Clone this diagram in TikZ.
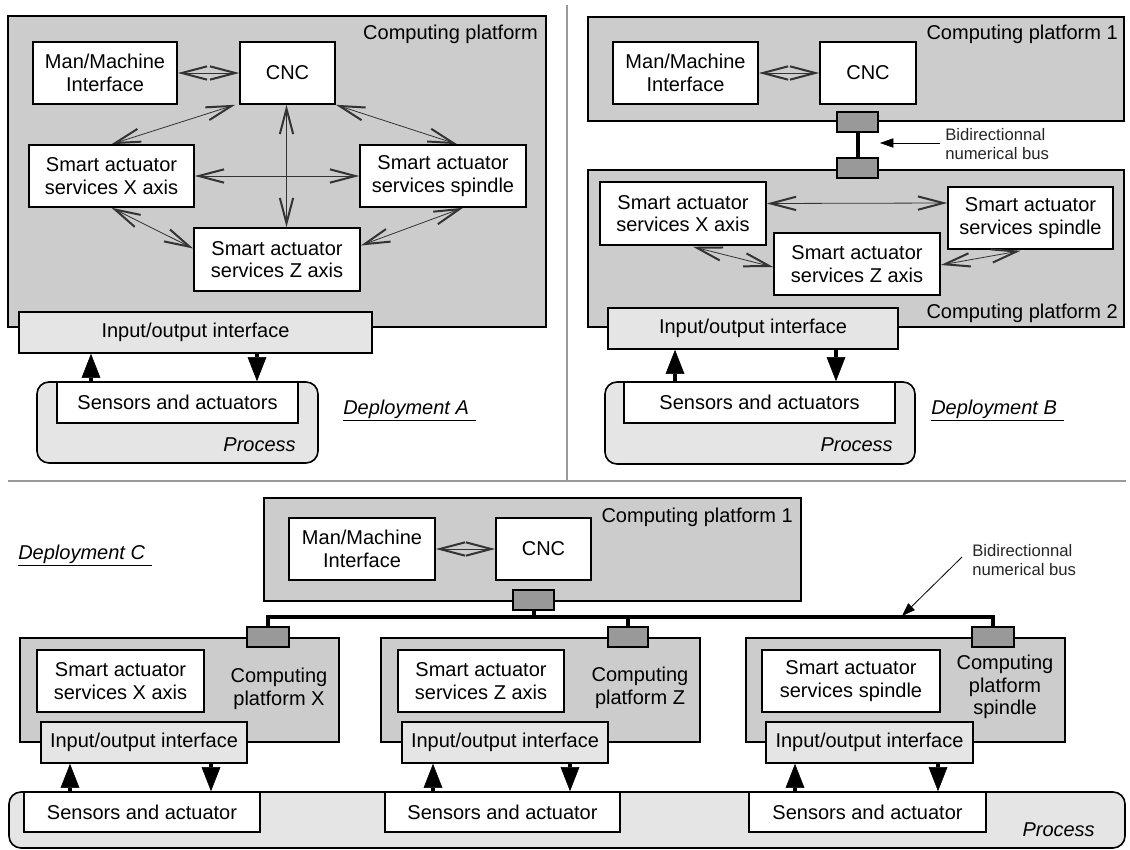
\documentclass[tikz,border=0pt]{standalone}
\usepackage{fontspec}
\setmainfont{Liberation Sans}
\usetikzlibrary{arrows.meta,calc}
\definecolor{platfill}{gray}{0.8}
\definecolor{iofill}{gray}{0.9}
\definecolor{connfill}{gray}{0.6}
\definecolor{sepcol}{gray}{0.6}
\newcommand\bfnt{\fontsize{15}{17}\selectfont}
\newcommand\smfnt{\fontsize{12.5}{14}\selectfont}
\begin{document}
\begin{tikzpicture}[x=0.75pt,y=-0.75pt,
  rect/.style n args={4}{minimum width={(#3-#1)*0.75pt}, minimum height={(#4-#2)*0.75pt}, at={({(#1+#3)/2},{(#2+#4)/2})}, anchor=center},
  plat/.style={draw, line width=1.2pt, fill=platfill, inner sep=0pt},
  box/.style={draw, line width=1.2pt, fill=white, inner sep=0pt, align=center, font=\bfnt},
  iobox/.style={draw, line width=1.2pt, fill=iofill, inner sep=0pt, align=center, font=\bfnt},
  proc/.style={draw, line width=1.2pt, fill=iofill, rounded corners=9pt, inner sep=0pt},
  conn/.style={draw, line width=1.2pt, fill=connfill, inner sep=0pt},
  lbl/.style={inner sep=0pt, font=\bfnt, align=center},
  deplbl/.style={inner sep=0pt, font=\bfnt\itshape},
  buslbl/.style={inner sep=0pt, font=\smfnt, align=left, text=black!85},
  biarrow/.style={line width=0.6pt, draw=black!80, {Straight Barb[length=19pt,width=10pt,line width=1.5pt]}-{Straight Barb[length=19pt,width=10pt,line width=1.5pt]}},
  ioarrow/.style={line width=2.8pt, -{Triangle[length=18pt,width=14pt,line width=0.4pt]}},
  busline/.style={line width=3pt},
  ptr/.style={line width=0.6pt, -{Triangle[length=10pt,width=7pt,line width=0.4pt]}},
  sepline/.style={draw=sepcol, line width=2pt}
]
\useasboundingbox (0,0) rectangle (1130,849);
\fill[white] (0,0) rectangle (1130,849);

% separators
\coordinate (sepT) at (567,5);
\coordinate (sepB) at (567,481);
\coordinate (sepL) at (8,481);
\coordinate (sepR) at (1126,481);
\draw[sepline] (sepT) -- (sepB);
\draw[sepline] (sepL) -- (sepR);

%================ Deployment A =================
\node[plat, rect={8}{16}{546}{327}] (platA) {};
\node[lbl, anchor=base east] (platAl) at (538,40) {Computing platform};
\node[box, rect={33}{42}{177}{104}] (mmiA) {Man/Machine\\Interface};
\node[box, rect={240}{42}{335}{104}] (cncA) {CNC};
\node[box, rect={29}{145}{194}{207}] (sxA) {Smart actuator\\services X axis};
\node[box, rect={360}{145}{526}{207}] (ssA) {Smart actuator\\services spindle};
\node[box, rect={194}{228}{360}{291}] (szA) {Smart actuator\\services Z axis};
\draw[biarrow] (mmiA.east) -- (cncA.west);
\draw[biarrow] ($(cncA.south west)+(-4,0)$) -- (sxA.north);
\draw[biarrow] (cncA.south east) -- ($(ssA.north)+(14,0)$);
\draw[biarrow] ($(cncA.south)+(-1,0)$) -- ($(cncA.south |- szA.north)+(-1,0)$);
\draw[biarrow] (sxA.east) -- (ssA.west);
\draw[biarrow] (sxA.south) -- ($(szA.west)+(0,-11)$);
\draw[biarrow] ($(ssA.south)+(20,0)$) -- ($(szA.east)+(0,-14)$);
\node[iobox, rect={19}{312}{372}{353}] (ioA) {Input/output interface};
\node[proc, rect={37}{382}{318}{463}] (procA) {};
\node[box, rect={57}{382}{298}{423}] (senA) {Sensors and actuators};
\node[lbl, font=\bfnt\itshape, anchor=base east] (procAl) at (296,451) {Process};
\draw[ioarrow] (91,0 |- senA.north) -- (91,0 |- ioA.south);
\draw[ioarrow] (257,0 |- ioA.south) -- (257,0 |- senA.north);
\node[deplbl, anchor=base west] (depA) at (343,414) {\underline{Deployment A\hspace{5pt}}};

%================ Deployment B =================
\node[plat, rect={588}{17}{1124}{121}] (platB1) {};
\node[plat, rect={588}{170}{1124}{327}] (platB2) {};
\node[lbl, anchor=base east] (platB1l) at (1118,40) {Computing platform 1};
\node[lbl, anchor=base east] (platB2l) at (1118,318) {Computing platform 2};
\node[box, rect={613}{42}{758}{104}] (mmiB) {Man/Machine\\Interface};
\node[box, rect={820}{42}{916}{104}] (cncB) {CNC};
\draw[biarrow] (mmiB.east) -- (cncB.west);
\node[conn, rect={837}{112}{878}{132}] (connB1) {};
\node[conn, rect={837}{158}{878}{178}] (connB2) {};
\draw[busline] (connB1.south) -- (connB2.north);
\node[buslbl, anchor=west] (busBl) at (945,144) {Bidirectionnal\\numerical bus};
\coordinate (busBpt) at (880,143);
\draw[ptr] ($(busBl.west)+(-5,-1)$) -- (busBpt);
\node[box, rect={600}{182}{766}{245}] (sxB) {Smart actuator\\services X axis};
\node[box, rect={948}{187}{1113}{249}] (ssB) {Smart actuator\\services spindle};
\node[box, rect={774}{233}{940}{295}] (szB) {Smart actuator\\services Z axis};
\draw[biarrow] ($(sxB.east)+(0,-10)$) -- ($(ssB.west)+(0,-15)$);
\draw[biarrow] ($(sxB.south)+(10,1)$) -- ($(szB.west)+(0,3)$);
\draw[biarrow] ($(ssB.south)+(-10,1)$) -- ($(szB.east)+(0,1)$);
\node[iobox, rect={608}{308}{898}{349}] (ioB) {Input/output interface};
\node[proc, rect={605}{382}{915}{464}] (procB) {};
\node[box, rect={624}{382}{895}{423}] (senB) {Sensors and actuators};
\node[lbl, font=\bfnt\itshape, anchor=base east] (procBl) at (893,451) {Process};
\draw[ioarrow] (675,0 |- senB.north) -- (675,0 |- ioB.south);
\draw[ioarrow] (836,0 |- ioB.south) -- (836,0 |- senB.north);
\node[deplbl, anchor=base west] (depB) at (931,414) {\underline{Deployment B\hspace{5pt}}};

%================ Deployment C =================
\node[deplbl, anchor=base west] (depC) at (18,559) {\underline{Deployment C\hspace{5pt}}};
\node[plat, rect={264}{498}{801}{601}] (platC1) {};
\node[lbl, anchor=base east] (platC1l) at (793,522) {Computing platform 1};
\node[box, rect={289}{518}{435}{580}] (mmiC) {Man/Machine\\Interface};
\node[box, rect={496}{518}{591}{580}] (cncC) {CNC};
\draw[biarrow] (mmiC.east) -- (cncC.west);

\node[plat, rect={20}{638}{339}{742}] (platX) {};
\node[plat, rect={381}{638}{700}{742}] (platZ) {};
\node[plat, rect={746}{638}{1065}{742}] (platS) {};

\node[conn, rect={513}{590}{554}{610}] (connC) {};
\node[conn, rect={247}{627}{289}{647}] (connX) {};
\node[conn, rect={608}{627}{648}{647}] (connZ) {};
\node[conn, rect={972}{627}{1014}{647}] (connS) {};
\coordinate (busY) at (0,617);
\draw[busline] (connX.north) -- (connX.north |- busY) -- (connS.north |- busY) -- (connS.north);
\draw[busline] (connC.south) -- (connC.south |- busY);
\draw[busline] (connZ.north) -- (connZ.north |- busY);
\node[buslbl, anchor=west] (busCl) at (972,560) {Bidirectionnal\\numerical bus};
\coordinate (busCpt) at (902,616);
\draw[ptr] ($(busCl.west)+(-10,-3)$) -- (busCpt);

\node[box, rect={37}{650}{204}{712}] (sxC) {Smart actuator\\services X axis};
\node[box, rect={398}{650}{564}{712}] (szC) {Smart actuator\\services Z axis};
\node[box, rect={762}{650}{940}{712}] (ssC) {Smart actuator\\services spindle};
\node[lbl] (platXl) at (279,689) {Computing\\platform X};
\node[lbl] (platZl) at (640,688) {Computing\\platform Z};
\node[lbl] (platSl) at (1005,687) {Computing\\platform\\spindle};

\node[iobox, rect={41}{722}{247}{763}] (ioX) {Input/output interface};
\node[iobox, rect={402}{722}{608}{763}] (ioZ) {Input/output interface};
\node[iobox, rect={766}{722}{973}{763}] (ioS) {Input/output interface};

\node[proc, rect={9}{792}{1125}{848}] (procC) {};
\node[box, rect={24}{792}{260}{832}] (senX) {Sensors and actuator};
\node[box, rect={385}{792}{620}{832}] (senZ) {Sensors and actuator};
\node[box, rect={749}{792}{986}{832}] (senS) {Sensors and actuator};
\node[lbl, font=\bfnt\itshape, anchor=base east] (procCl) at (1095,836) {Process};

\draw[ioarrow] (70,0 |- senX.north) -- (70,0 |- ioX.south);
\draw[ioarrow] (211,0 |- ioX.south) -- (211,0 |- senX.north);
\draw[ioarrow] (433,0 |- senZ.north) -- (433,0 |- ioZ.south);
\draw[ioarrow] (570,0 |- ioZ.south) -- (570,0 |- senZ.north);
\draw[ioarrow] (795,0 |- senS.north) -- (795,0 |- ioS.south);
\draw[ioarrow] (938,0 |- ioS.south) -- (938,0 |- senS.north);
\end{tikzpicture}
\end{document}
